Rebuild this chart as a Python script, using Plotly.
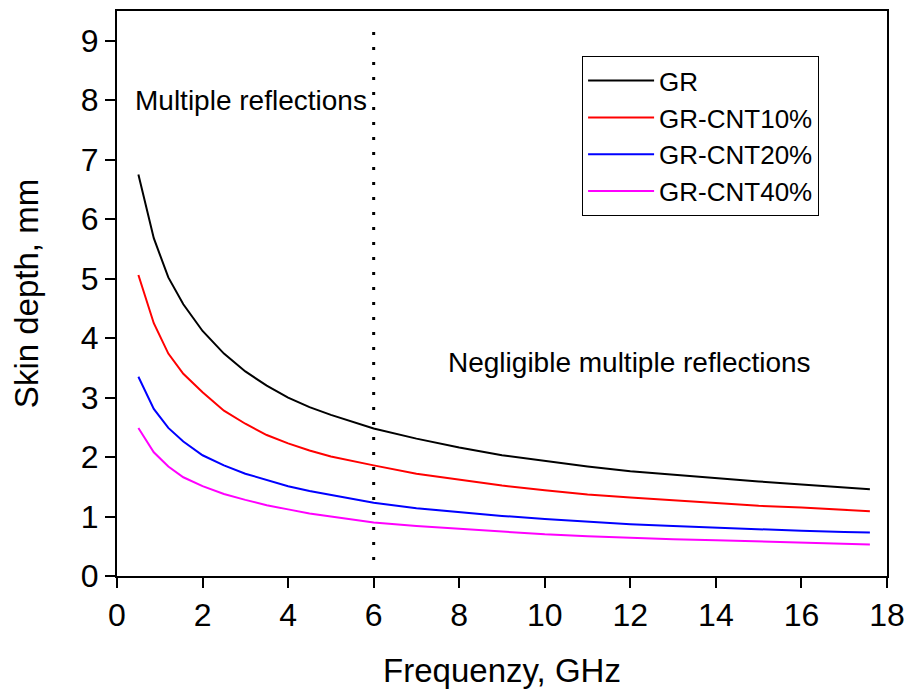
import plotly.graph_objects as go

freq = [0.5, 0.86, 1.2, 1.55, 2, 2.5, 3, 3.5, 4, 4.5, 5, 5.5, 6, 7, 8, 9, 10, 11, 12, 13, 14, 15, 16, 17, 17.6]
gr = [6.75, 5.68, 5.02, 4.57, 4.12, 3.74, 3.44, 3.20, 3.00, 2.84, 2.71, 2.59, 2.48, 2.31, 2.16,
      2.03, 1.93, 1.84, 1.76, 1.70, 1.64, 1.59, 1.54, 1.49, 1.46]
gr_cnt10 = [5.06, 4.25, 3.74, 3.40, 3.09, 2.78, 2.56, 2.37, 2.23, 2.11, 2.01, 1.93, 1.86, 1.72, 1.62,
            1.52, 1.44, 1.37, 1.32, 1.27, 1.22, 1.18, 1.15, 1.12, 1.09]
gr_cnt20 = [3.35, 2.81, 2.49, 2.26, 2.03, 1.86, 1.72, 1.61, 1.51, 1.43, 1.36, 1.29, 1.23, 1.14, 1.07,
            1.01, 0.96, 0.91, 0.87, 0.84, 0.81, 0.78, 0.76, 0.74, 0.73]
gr_cnt40 = [2.49, 2.08, 1.84, 1.66, 1.51, 1.38, 1.28, 1.19, 1.12, 1.05, 1.00, 0.95, 0.90, 0.84, 0.79,
            0.74, 0.70, 0.67, 0.64, 0.62, 0.60, 0.58, 0.56, 0.54, 0.53]

series_names = ["GR", "GR-CNT10%", "GR-CNT20%", "GR-CNT40%"]
series_colors = ["#000000", "#ff0000", "#0000ff", "#ff00ff"]
series_values = [gr, gr_cnt10, gr_cnt20, gr_cnt40]

x_ticks = [0, 2, 4, 6, 8, 10, 12, 14, 16, 18]
y_ticks = [0, 1, 2, 3, 4, 5, 6, 7, 8, 9]
boundary_freq = 6

FONT = "Liberation Sans, Arial, sans-serif"

fig = go.Figure()
for name, color, vals in zip(series_names, series_colors, series_values):
    fig.add_trace(go.Scatter(x=freq, y=vals, mode="lines", name=name,
                             line=dict(color=color, width=2)))

fig.add_shape(type="line", x0=boundary_freq, x1=boundary_freq, y0=0.27, y1=9.25,
              xref="x", yref="y", line=dict(color="black", width=3, dash="3px,12px"))

fig.add_annotation(x=0.37, y=8.0, xref="x", yref="y", text="Multiple reflections",
                   showarrow=False, xanchor="left", yanchor="middle",
                   font=dict(family=FONT, size=28, color="black"))
fig.add_annotation(x=7.68, y=3.59, xref="x", yref="y", text="Negligible multiple reflections",
                   showarrow=False, xanchor="left", yanchor="middle",
                   font=dict(family=FONT, size=28, color="black"))

fig.update_layout(
    width=914, height=692,
    margin=dict(l=117, r=26, t=9, b=116),
    paper_bgcolor="white", plot_bgcolor="white",
    font=dict(family=FONT, color="black"),
    showlegend=True,
    legend=dict(x=0.604, y=0.92, xanchor="left", yanchor="top",
                bordercolor="black", borderwidth=1, bgcolor="white",
                font=dict(family=FONT, size=26, color="black"),
                tracegroupgap=0, itemwidth=66),
)
fig.update_xaxes(range=[0, 18], tickvals=x_ticks, ticks="outside", ticklen=10, tickwidth=2,
                 tickcolor="black", showline=True, linecolor="black", linewidth=2, mirror=True,
                 showgrid=False, zeroline=False, tickfont=dict(family=FONT, size=32),
                 title=dict(text="Frequenzy, GHz", font=dict(family=FONT, size=33), standoff=26))
fig.update_yaxes(range=[0, 9.5], tickvals=y_ticks, ticks="outside", ticklen=10, tickwidth=2,
                 tickcolor="black", showline=True, linecolor="black", linewidth=2, mirror=True,
                 showgrid=False, zeroline=False, tickfont=dict(family=FONT, size=32),
                 title=dict(text="Skin depth, mm", font=dict(family=FONT, size=33), standoff=32))

fig.write_html("out.html")
